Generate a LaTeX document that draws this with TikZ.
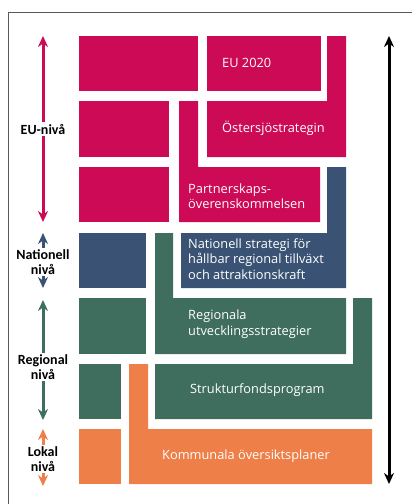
\documentclass[tikz,border=0pt]{standalone}
\usepackage{fontspec}
\setmainfont{Open Sans}
\newfontfamily\levelfont{Carlito}
\usetikzlibrary{arrows.meta}
\definecolor{eupink}{HTML}{CC0A55}
\definecolor{natblue}{HTML}{3A5273}
\definecolor{reggreen}{HTML}{3F6E5E}
\definecolor{lokorange}{HTML}{EE7F48}
\tikzstyle{boxtext}=[text=white, font=\fontsize{12.8}{15.5}\selectfont, align=left, anchor=west, inner sep=0pt]
\tikzstyle{level}=[text=black, font=\levelfont\bfseries\fontsize{14}{15}\selectfont, align=center, fill=white, inner sep=1.5pt]
\tikzstyle{levelarrow}=[line width=3pt, {Stealth[length=11pt,width=10pt]}-{Stealth[length=11pt,width=10pt]}]

\begin{document}
\begin{tikzpicture}[x=1pt, y=-1pt]
	\useasboundingbox (0,0) rectangle (412,504);
	% frame
	\draw[black!65, line width=0.8pt] (8,504) -- (8,12) -- (412,12);

	% Plain blocks
	\foreach \xa/\ya/\xb/\yb/\col in {79/36/198/91/eupink, 207/36/321/91/eupink,
							79/101/169/157/eupink, 79/167/169/222/eupink,
							79/233/146/288/natblue, 79/298/146/354/reggreen,
							79/364/121/419/reggreen, 79/429/121/484/lokorange}
	\fill[\col] (\xa,\ya) rectangle (\xb,\yb);

	% Angled blocks
	\fill[eupink] (207,101) -- (327,101) -- (327,36) -- (346,36) -- (346,157) -- (207,157) -- cycle;
	\fill[eupink] (179,101) -- (198,101) -- (198,167) -- (320,167) -- (320,222) -- (179,222) -- cycle;
	\fill[natblue] (327,167) -- (346,167) -- (346,288) -- (181,288) -- (181,233) -- (327,233) -- cycle;
	\fill[reggreen] (155,233) -- (173,233) -- (173,298) -- (346,298) -- (346,354) -- (155,354) -- cycle;
	\fill[reggreen] (353,298) -- (372,298) -- (372,419) -- (155,419) -- (155,364) -- (353,364) -- cycle;
	\fill[lokorange] (129,364) -- (148,364) -- (148,429) -- (372,429) -- (372,484) -- (129,484) -- cycle;

	% Block texts
	\node[boxtext] (eu2020) at (222,63) {EU 2020};
	\node[boxtext] (ostersjo) at (222,128) {Östersjöstrategin};
	\node[boxtext] (partner) at (188,196) {Partnerskaps-\\överenskommelsen};
	\node[boxtext] (natstrat) at (188,259) {Nationell strategi för\\hållbar regional tillväxt\\och attraktionskraft};
	\node[boxtext] (regstrat) at (188,324) {Regionala\\utvecklingsstrategier};
	\node[boxtext] (struktur) at (190,390) {Strukturfondsprogram};
	\node[boxtext] (kommunal) at (162,456) {Kommunala översiktsplaner};

	% Level arrows
	\foreach \name/\top/\bot in {eu/36/222, nat/233/288, reg/300/420, lok/429/486}
	{
		\coordinate (\name top) at (43,\top);
		\coordinate (\name bot) at (43,\bot);
	}
	\coordinate (alltop) at (389,36);
	\coordinate (allbot) at (389,484);

	\draw[levelarrow, eupink] (eutop) -- node[level] {EU-nivå} (eubot);
	\draw[levelarrow, natblue] (nattop) -- node[level, pos=0.53] {Nationell\\nivå} (natbot);
	\draw[levelarrow, reggreen] (regtop) -- node[level, pos=0.56] {Regional\\nivå} (regbot);
	\draw[levelarrow, lokorange] (loktop) -- node[level, pos=0.53] {Lokal\\nivå} (lokbot);
	\draw[levelarrow, black] (alltop) -- (allbot);
\end{tikzpicture}
\end{document}
